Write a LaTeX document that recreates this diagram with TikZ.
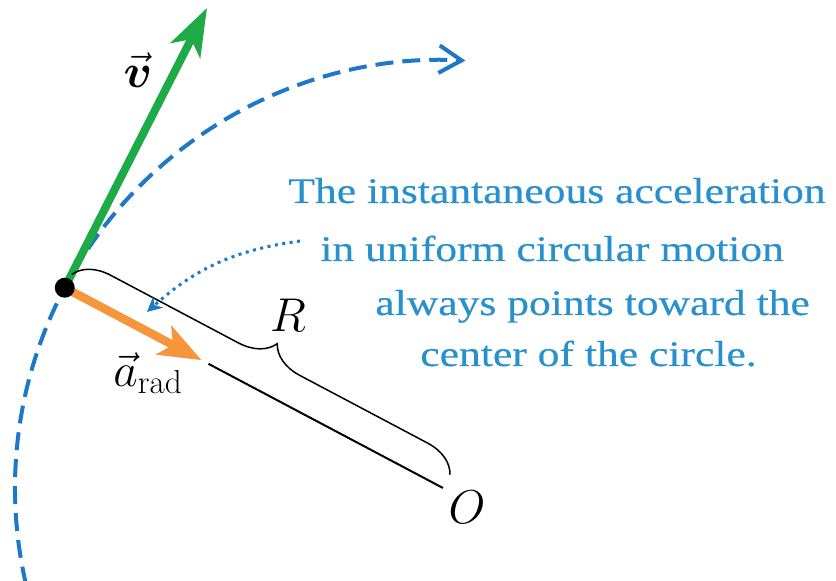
\RequirePackage{fix-cm}
\documentclass[tikz,border=0pt]{standalone}
\usepackage{amsmath}
\usepackage{fontspec}
\newfontfamily\notefont[FakeStretch=1.21, FakeBold=0.4]{Liberation Serif}
\usetikzlibrary{arrows.meta,decorations.pathreplacing,calc}
\definecolor{pathblue}{RGB}{30,120,200}
\definecolor{noteblue}{RGB}{40,145,205}
\definecolor{velgreen}{RGB}{30,170,70}
\definecolor{accorange}{RGB}{245,150,60}

\begin{document}
\begin{tikzpicture}[
    x=0.02cm, y=0.02cm,
    note/.style={anchor=base west, inner sep=0pt, text=noteblue, font=\notefont\fontsize{20.5}{24}\selectfont},
    symb/.style={inner sep=0pt, font=\fontsize{27}{30}\selectfont},
    particle/.style={circle, fill=black, inner sep=0pt, minimum size=0.4cm}
]
    \useasboundingbox (-443,-93) rectangle (393,488);

    % Centro y posicion de la particula sobre el circulo de radio 428
    \coordinate (O) at (0,0);
    \coordinate (P) at (152.1:428);
    \coordinate (vtip) at (-236,480);
    \coordinate (atip) at ($(P)!0.362!(O)$);
    \coordinate (rstart) at ($(P)!0.38!(O)$);

    % Trayectoria circular
    \draw[pathblue, line width=0.08cm, dash pattern=on 0.36cm off 0.18cm,
          -{Straight Barb[length=0.45cm, width=0.55cm]}]
        (193:428) arc[start angle=193, end angle=87, radius=428];

    % Velocidad y aceleracion radial
    \draw[velgreen, line width=0.16cm, -{Stealth[length=0.95cm, width=0.66cm, inset=0.25cm]}] (P) -- (vtip);
    \draw[accorange, line width=0.17cm, -{Stealth[length=0.85cm, width=0.64cm, inset=0.2cm]}] (P) -- (atip);

    % Radio y llave
    \draw[line width=0.04cm] (rstart) -- (O);
    \draw[line width=0.03cm, decorate, decoration={brace, amplitude=0.7cm, raise=0.3cm}] (P) -- (O);

    \node[particle] (dot) at (P) {};

    % Etiquetas
    \node[symb] (vlabel) at (-305,418) {$\vec{\boldsymbol{v}}$};
    \node[symb] (alabel) at (-295,115) {$\vec{a}_{\mathrm{rad}}$};
    \node[symb] (Rlabel) at (-155,173) {$R$};
    \node[symb] (Olabel) at (24,-19) {$O$};

    % Nota explicativa
    \node[note] (note1) at (-155,285) {The instantaneous acceleration};
    \node[note] (note2) at (-123,227) {in uniform circular motion};
    \node[note] (note3) at (-68,173) {always points toward the};
    \node[note] (note4) at (-23,122) {center of the circle.};

    \coordinate (hint) at (-143,247);
    \coordinate (aim) at (-296,176);
    \draw[pathblue, line width=0.06cm, dash pattern=on 0.06cm off 0.09cm,
          -{Stealth[length=0.3cm, width=0.3cm]}] (hint) to[bend right=17] (aim);
\end{tikzpicture}
\end{document}
